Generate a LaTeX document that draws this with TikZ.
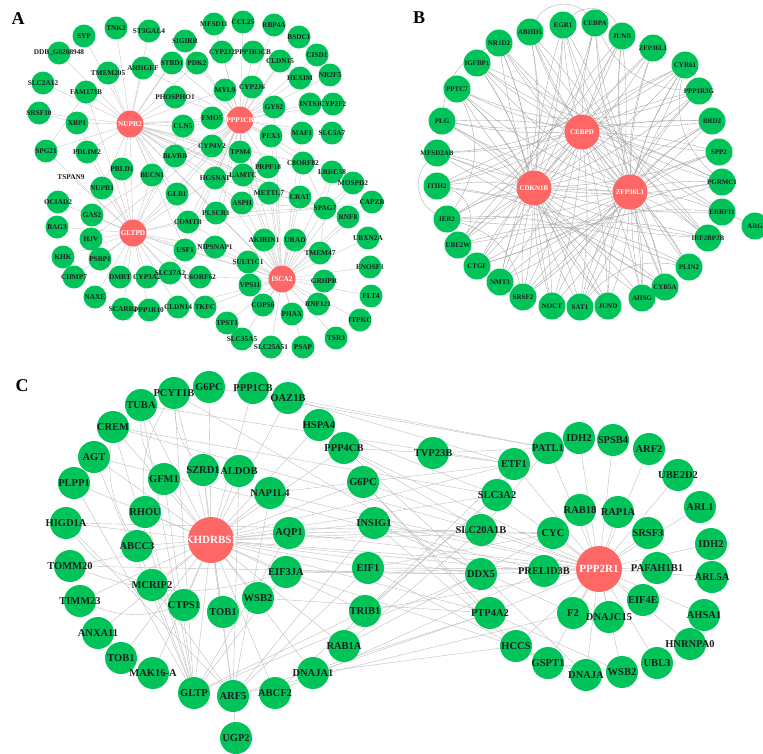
\documentclass[tikz,border=0pt]{standalone}
\usepackage{fontspec}
\setmainfont{Liberation Serif}
\pgfdeclarelayer{bg}
\pgfsetlayers{bg,main}
\definecolor{ngreen}{RGB}{0,196,90}
\definecolor{nred}{RGB}{255,102,102}
\definecolor{txt}{RGB}{30,30,30}
\definecolor{egA}{RGB}{195,195,195}
\definecolor{egB}{RGB}{165,165,165}
\definecolor{egC}{RGB}{190,190,190}
\tikzset{
  lA/.style={font=\fontsize{7.3}{8}\selectfont\bfseries, text=txt, inner sep=0pt},
  lAw/.style={lA, text=white},
  gA/.style={circle, fill=ngreen, inner sep=0pt, minimum size=23pt, label={[lA]center:#1}},
  hA/.style={circle, fill=nred, inner sep=0pt, minimum size=27pt, label={[lAw]center:#1}},
  lB/.style={font=\fontsize{7}{8}\selectfont\bfseries, text=txt, inner sep=0pt},
  lBw/.style={lB, text=white},
  gB/.style={circle, fill=ngreen, inner sep=0pt, minimum size=27pt, label={[lB]center:#1}},
  hB/.style={circle, fill=nred, inner sep=0pt, minimum size=35pt, label={[lBw]center:#1}},
  lC/.style={font=\fontsize{10.5}{12}\selectfont\bfseries, text=txt, inner sep=0pt},
  lCw/.style={lC, font=\fontsize{11}{12}\selectfont\bfseries, text=white},
  gC/.style={circle, fill=ngreen, inner sep=0pt, minimum size=32pt, label={[lC]center:#1}},
  hC/.style={circle, fill=nred, inner sep=0pt, minimum size=46pt, label={[lCw]center:#1}},
  panel/.style={font=\fontsize{18}{20}\selectfont\bfseries, text=black, inner sep=0pt},
  eA/.style={draw=egA, line width=0.35pt},
  eB/.style={draw=egB, line width=0.35pt},
  eC/.style={draw=egC, line width=0.4pt}
}
\begin{document}
\begin{tikzpicture}[x=1pt,y=-1pt]
\useasboundingbox (0,0) rectangle (763,753);
% ---------------- Panel A ----------------
\node[panel] (labA) at (18,19) {A};
\node[gA=SYP] (aSYP) at (84,36) {};
\node[gA=TNK2] (aTNK2) at (116,28) {};
\node[gA=ST3GAL4] (aST3) at (149,31) {};
\node[gA=SIGIRR] (aSIG) at (185,41) {};
\node[gA=DDB\_G0268948] (aDDB) at (59,53) {};
\node[gA=TMEM205] (aTMEM205) at (108,73) {};
\node[gA=ARHGEF] (aARH) at (143,68) {};
\node[gA=STBD1] (aSTBD1) at (172,63) {};
\node[gA=PDK2] (aPDK2) at (197,63) {};
\node[gA=SLC2A12] (aSLC2A12) at (43,83) {};
\node[gA=FAM173B] (aFAM) at (86,92) {};
\node[gA=PHOSPHO1] (aPHOS) at (175,97) {};
\node[gA=SRSF10] (aSRSF10) at (39,113) {};
\node[gA=XBP1] (aXBP1) at (77,123) {};
\node[hA=NUPR2] (aNUPR2) at (130,124) {};
\node[gA=CLN5] (aCLN5) at (183,126) {};
\node[gA=SPG21] (aSPG21) at (46,151) {};
\node[gA=PDLIM2] (aPDLIM2) at (87,152) {};
\node[gA=BLVRB] (aBLVRB) at (175,156) {};
\node[gA=PBLD1] (aPBLD1) at (122,169) {};
\node[gA=MFSD11] (aMFSD11) at (214,24) {};
\node[gA=CCL25] (aCCL25) at (243,22) {};
\node[gA=RBP4A] (aRBP4A) at (274,25) {};
\node[gA=BSDC1] (aBSDC1) at (299,37) {};
\node[gA=CISD1] (aCISD1) at (317,55) {};
\node[gA=NR2F5] (aNR2F5) at (330,75) {};
\node[gA=CYP2J2] (aCYP2J2) at (222,52) {};
\node[gA=PPP1R3CB] (aPPP1R3CB) at (253,52) {};
\node[gA=CLDN15] (aCLDN15) at (280,61) {};
\node[gA=HEXIM] (aHEXIM) at (300,78) {};
\node[gA=MYL9] (aMYL9) at (225,90) {};
\node[gA=CYP2J6] (aCYP2J6) at (252,87) {};
\node[gA=INTS1] (aINTS1) at (310,104) {};
\node[gA=CYP2F2] (aCYP2F2) at (333,104) {};
\node[gA=GYS2] (aGYS2) at (274,107) {};
\node[hA=PPP1CB] (aPPP1CB) at (240,120) {};
\node[gA=FMO5] (aFMO5) at (212,118) {};
\node[gA=PEX3] (aPEX3) at (271,136) {};
\node[gA=MAF1] (aMAF1) at (302,133) {};
\node[gA=SLC5A7] (aSLC5A7) at (332,133) {};
\node[gA=CYP4V2] (aCYP4V2) at (212,146) {};
\node[gA=TPM4] (aTPM4) at (240,152) {};
\node[gA=PRPF18] (aPRPF18) at (268,167) {};
\node[gA=C8ORF82] (aC8) at (303,163) {};
\node[gA=LRRC58] (aLRRC58) at (332,172) {};
\node[lA] (aTSPAN9) at (71,177) {TSPAN9};
\node[gA=BECN1] (aBECN1) at (152,175) {};
\node[gA=NUPR1] (aNUPR1) at (102,188) {};
\node[gA=GLB1] (aGLB1) at (177,194) {};
\node[gA=OCIAD2] (aOCIAD2) at (58,202) {};
\node[gA=GAS2] (aGAS2) at (92,215) {};
\node[gA=COMTB] (aCOMTB) at (188,222) {};
\node[gA=BAG3] (aBAG3) at (57,227) {};
\node[hA=GLTPD] (aGLTPD) at (133,233) {};
\node[gA=HJV] (aHJV) at (91,239) {};
\node[gA=USF1] (aUSF1) at (185,250) {};
\node[gA=KHK] (aKHK) at (63,257) {};
\node[gA=PSBP1] (aPSBP1) at (100,259) {};
\node[gA=CHMP7] (aCHMP7) at (74,277) {};
\node[gA=DMBT] (aDMBT) at (120,277) {};
\node[gA=CYP3A2] (aCYP3A2) at (147,277) {};
\node[gA=SLC37A2] (aSLC37A2) at (170,273) {};
\node[gA=C6ORF62] (aC6) at (200,277) {};
\node[gA=NAXE] (aNAXE) at (95,297) {};
\node[gA=SCARB2] (aSCARB2) at (123,309) {};
\node[gA=PPP1R10] (aPPP1R10) at (149,310) {};
\node[gA=CLDN14] (aCLDN14) at (178,307) {};
\node[gA=TKFC] (aTKFC) at (205,307) {};
\node[gA=HGSNAT] (aHGSNAT) at (215,178) {};
\node[gA=LAMTC] (aLAMTC) at (243,175) {};
\node[gA=METTL7] (aMETTL7) at (269,193) {};
\node[gA=CRAT] (aCRAT) at (300,197) {};
\node[gA=MOSPD2] (aMOSPD2) at (353,183) {};
\node[gA=CAPZB] (aCAPZB) at (372,202) {};
\node[gA=ASPH] (aASPH) at (242,203) {};
\node[gA=PLSCR1] (aPLSCR1) at (216,213) {};
\node[gA=SPAG7] (aSPAG7) at (325,208) {};
\node[gA=RNF8] (aRNF8) at (348,217) {};
\node[gA=UBXN2A] (aUBXN2A) at (368,238) {};
\node[gA=NIPSNAP1] (aNIPSNAP1) at (215,247) {};
\node[gA=AKIRIN1] (aAKIRIN1) at (264,240) {};
\node[gA=URAD] (aURAD) at (295,240) {};
\node[gA=TMEM47] (aTMEM47) at (320,253) {};
\node[gA=SULT1C1] (aSULT1C1) at (248,262) {};
\node[gA=ENOSF1] (aENOSF1) at (370,267) {};
\node[hA=ISCA2] (aISCA2) at (282,279) {};
\node[gA=VPS11] (aVPS11) at (250,285) {};
\node[gA=GRHPR] (aGRHPR) at (324,281) {};
\node[gA=FLT4] (aFLT4) at (371,296) {};
\node[gA=COPS6] (aCOPS6) at (263,305) {};
\node[gA=RNF121] (aRNF121) at (318,304) {};
\node[gA=PHAX] (aPHAX) at (292,314) {};
\node[gA=ITPKC] (aITPKC) at (360,320) {};
\node[gA=TPST1] (aTPST1) at (227,323) {};
\node[gA=SLC35A5] (aSLC35A5) at (242,339) {};
\node[gA=SLC25A51] (aSLC25A51) at (271,347) {};
\node[gA=PSAP] (aPSAP) at (303,347) {};
\node[gA=TSR3] (aTSR3) at (336,338) {};
% ---------------- Panel B ----------------
\node[panel] (labB) at (419,18) {B};
\node[gB=EGR1] (bEGR1) at (563,25) {};
\node[gB=CEBPA] (bCEBPA) at (595,23) {};
\node[gB=JUNB] (bJUNB) at (622,36) {};
\node[gB=ZFP36L1] (bZFPr) at (653,48) {};
\node[gB=CYR61] (bCYR61) at (685,65) {};
\node[gB=PPP1R3G] (bPPP1R3G) at (699,91) {};
\node[gB=BRD2] (bBRD2) at (712,121) {};
\node[gB=SPP2] (bSPP2) at (719,152) {};
\node[gB=PGRMC1] (bPGRMC1) at (722,182) {};
\node[gB=ERRFI1] (bERRFI1) at (722,212) {};
\node[gB=ARG] (bARG) at (755,226) {};
\node[gB=IRF2BP2B] (bIRF) at (708,238) {};
\node[gB=PLIN2] (bPLIN2) at (689,267) {};
\node[gB=CYB5A] (bCYB5A) at (665,287) {};
\node[gB=AHSG] (bAHSG) at (642,298) {};
\node[gB=JUND] (bJUND) at (608,306) {};
\node[gB=SAT1] (bSAT1) at (580,307) {};
\node[gB=NOCT] (bNOCT) at (552,306) {};
\node[gB=SRSF2] (bSRSF2) at (523,297) {};
\node[gB=NMT3] (bNMT3) at (500,282) {};
\node[gB=CTGF] (bCTGF) at (477,266) {};
\node[gB=UBE2W] (bUBE2W) at (458,245) {};
\node[gB=IER2] (bIER2) at (447,219) {};
\node[gB=ITIH2] (bITIH2) at (437,186) {};
\node[gB=MFSD2AB] (bMFSD2AB) at (437,153) {};
\node[gB=PLG] (bPLG) at (442,121) {};
\node[gB=PPTC7] (bPPTC7) at (457,89) {};
\node[gB=IGFBP1] (bIGFBP1) at (477,63) {};
\node[gB=NR1D2] (bNR1D2) at (499,43) {};
\node[gB=ABHD5] (bABHD5) at (530,32) {};
\node[hB=CEBPD] (bCEBPD) at (582,132) {};
\node[hB=CDKN1B] (bCDKN1B) at (534,188) {};
\node[hB=ZFP36L1] (bZFPh) at (630,192) {};
% ---------------- Panel C ----------------
\node[panel] (labC) at (22,386) {C};
\node[gC=G6PC] (cG6PCo) at (209,387) {};
\node[gC=PPP1CB] (cPPP1CB) at (253,388) {};
\node[gC=PCYT1B] (cPCYT1B) at (174,393) {};
\node[gC=TUBA] (cTUBA) at (141,405) {};
\node[gC=CREM] (cCREM) at (113,427) {};
\node[gC=AGT] (cAGT) at (94,457) {};
\node[gC=PLPP1] (cPLPP1) at (74,483) {};
\node[gC=SZRD1] (cSZRD1) at (203,470) {};
\node[gC=ALDOB] (cALDOB) at (239,471) {};
\node[gC=GFM1] (cGFM1) at (164,479) {};
\node[gC=HIGD1A] (cHIGD1A) at (66,523) {};
\node[gC=RHOU] (cRHOU) at (145,512) {};
\node[hC=KHDRBS1] (cKHDRBS1) at (211,540) {};
\node[gC=ABCC3] (cABCC3) at (137,546) {};
\node[gC=NAP1L4] (cNAP1L4) at (270,493) {};
\node[gC=TOMM20] (cTOMM20) at (70,566) {};
\node[gC=MCRIP2] (cMCRIP2) at (152,585) {};
\node[gC=TIMM23] (cTIMM23) at (80,601) {};
\node[gC=CTPS1] (cCTPS1) at (184,605) {};
\node[gC=TOB1] (cTOB1i) at (223,612) {};
\node[gC=WSB2] (cWSB2) at (258,598) {};
\node[gC=ANXA11] (cANXA11) at (98,633) {};
\node[gC=TOB1] (cTOB1o) at (121,658) {};
\node[gC=MAK16-A] (cMAK16) at (153,673) {};
\node[gC=GLTP] (cGLTP) at (194,693) {};
\node[gC=ARF5] (cARF5) at (233,696) {};
\node[gC=UGP2] (cUGP2) at (236,738) {};
\node[gC=OAZ1B] (cOAZ1B) at (288,398) {};
\node[gC=HSPA4] (cHSPA4) at (319,425) {};
\node[gC=PPP4CB] (cPPP4CB) at (344,448) {};
\node[gC=TVP23B] (cTVP23B) at (433,453) {};
\node[gC=G6PC] (cG6PCi) at (363,482) {};
\node[gC=AQP1] (cAQP1) at (289,533) {};
\node[gC=INSIG1] (cINSIG1) at (374,523) {};
\node[gC=SLC20A1B] (cSLC20A1B) at (481,530) {};
\node[gC=EIF3JA] (cEIF3JA) at (286,572) {};
\node[gC=EIF1] (cEIF1) at (368,568) {};
\node[gC=DDX5] (cDDX5) at (481,574) {};
\node[gC=TRIB1] (cTRIB1) at (365,611) {};
\node[gC=PTP4A2] (cPTP4A2) at (490,613) {};
\node[gC=RAB1A] (cRAB1A) at (344,646) {};
\node[gC=DNAJA1] (cDNAJA1) at (313,673) {};
\node[gC=ABCF2] (cABCF2) at (275,693) {};
\node[gC=ETF1] (cETF1) at (514,464) {};
\node[gC=SLC3A2] (cSLC3A2) at (497,495) {};
\node[gC=HCCS] (cHCCS) at (516,646) {};
\node[gC=PATL1] (cPATL1) at (548,448) {};
\node[gC=IDH2] (cIDH2t) at (579,438) {};
\node[gC=SPSB4] (cSPSB4) at (613,440) {};
\node[gC=ARF2] (cARF2) at (649,449) {};
\node[gC=UBE2D2] (cUBE2D2) at (678,475) {};
\node[gC=ARL1] (cARL1) at (700,507) {};
\node[gC=RAB18] (cRAB18) at (580,510) {};
\node[gC=RAP1A] (cRAP1A) at (618,512) {};
\node[gC=CYC] (cCYC) at (553,533) {};
\node[gC=SRSF3] (cSRSF3) at (648,533) {};
\node[gC=IDH2] (cIDH2r) at (711,544) {};
\node[hC=PPP2R1] (cPPP2R1) at (599,569) {};
\node[gC=PRELID3B] (cPRELID3B) at (544,571) {};
\node[gC=PAFAH1B1] (cPAFAH1B1) at (657,568) {};
\node[gC=ARL5A] (cARL5A) at (712,577) {};
\node[gC=EIF4E] (cEIF4E) at (643,600) {};
\node[gC=F2] (cF2) at (573,613) {};
\node[gC=DNAJC15] (cDNAJC15) at (609,617) {};
\node[gC=AHSA1] (cAHSA1) at (704,615) {};
\node[gC=HNRNPA0] (cHNRNPA0) at (690,644) {};
\node[gC=GSPT1] (cGSPT1) at (548,663) {};
\node[gC=DNAJA] (cDNAJA) at (586,675) {};
\node[gC=WSB2] (cWSB2r) at (622,672) {};
\node[gC=UBL3] (cUBL3) at (657,663) {};
% ================= Edges =================
\begin{pgfonlayer}{bg}
% Panel A
\foreach \n in {aSYP,aTNK2,aST3,aSIG,aDDB,aTMEM205,aARH,aSLC2A12,aFAM,aSRSF10,aXBP1,aSPG21,aPDLIM2,aPHOS,aCLN5,aBLVRB,aSTBD1,aPDK2,aPBLD1,aBECN1,aNUPR1,aGLB1,aCOMTB,aHGSNAT,aPLSCR1,aUSF1,aLAMTC,aASPH,aMETTL7,aCRAT,aSPAG7,aC8,aPRPF18,aMYL9,aFMO5,aCYP4V2,aTPM4}
  \draw[eA] (aNUPR2) -- (\n);
\foreach \n in {aMFSD11,aCCL25,aRBP4A,aBSDC1,aCISD1,aNR2F5,aCYP2J2,aPPP1R3CB,aCLDN15,aHEXIM,aMYL9,aCYP2J6,aINTS1,aCYP2F2,aGYS2,aFMO5,aPEX3,aMAF1,aSLC5A7,aCYP4V2,aTPM4,aPRPF18,aC8,aLRRC58,aSTBD1,aPDK2,aPHOS,aCLN5,aBLVRB,aGLB1,aHGSNAT,aLAMTC,aCOMTB,aPLSCR1,aNIPSNAP1,aUSF1,aGAS2,aHJV,aSLC37A2,aSIG,aARH}
  \draw[eA] (aPPP1CB) -- (\n);
\foreach \n in {aTSPAN9,aPBLD1,aBECN1,aNUPR1,aGLB1,aOCIAD2,aGAS2,aCOMTB,aBAG3,aHJV,aUSF1,aKHK,aPSBP1,aCHMP7,aDMBT,aCYP3A2,aSLC37A2,aNAXE,aSCARB2,aPPP1R10,aCLDN14,aC6,aBLVRB,aCLN5,aPDLIM2,aXBP1,aSPG21,aHGSNAT,aPLSCR1,aNIPSNAP1,aSULT1C1,aTKFC,aFAM}
  \draw[eA] (aGLTPD) -- (\n);
\foreach \n in {aHGSNAT,aLAMTC,aMETTL7,aCRAT,aMOSPD2,aCAPZB,aASPH,aPLSCR1,aSPAG7,aRNF8,aUBXN2A,aNIPSNAP1,aAKIRIN1,aURAD,aTMEM47,aSULT1C1,aENOSF1,aVPS11,aGRHPR,aFLT4,aCOPS6,aRNF121,aPHAX,aITPKC,aTPST1,aTKFC,aSLC35A5,aSLC25A51,aPSAP,aTSR3,aC6,aCLDN14,aLRRC58,aC8,aPRPF18,aCOMTB,aUSF1,aPEX3,aMAF1,aGYS2,aTPM4}
  \draw[eA] (aISCA2) -- (\n);
\foreach \a/\b in {aNUPR2/aPPP1CB,aNUPR2/aGLTPD,aNUPR2/aISCA2,aPPP1CB/aISCA2,aGLTPD/aISCA2,aPPP1CB/aGLTPD,aSRSF10/aXBP1,aSPG21/aFAM,aSPAG7/aCAPZB,aSPAG7/aMOSPD2,aSPAG7/aRNF8,aSPAG7/aLRRC58,aSPAG7/aC8,aSPAG7/aHGSNAT,aSPAG7/aLAMTC,aSPAG7/aASPH,aSPAG7/aPLSCR1,aSPAG7/aCOMTB,aSPAG7/aMETTL7,aSPAG7/aTMEM47}
  \draw[eA] (\a) -- (\b);
% Panel B
\foreach \n in {bEGR1,bCEBPA,bJUNB,bZFPr,bCYR61,bPPP1R3G,bBRD2,bSPP2,bPGRMC1,bERRFI1,bIRF,bPLIN2,bCYB5A,bAHSG,bJUND,bSAT1,bNOCT,bSRSF2,bNMT3,bCTGF,bUBE2W,bIER2,bITIH2,bMFSD2AB,bPLG,bPPTC7,bIGFBP1,bNR1D2,bABHD5}
  {\draw[eB] (bCEBPD) to[bend left=6] (\n);
   \draw[eB] (bCDKN1B) to[bend right=8] (\n);
   \draw[eB] (bZFPh) to[bend left=8] (\n);}
\foreach \a/\b in {bCEBPD/bCDKN1B,bCEBPD/bZFPh,bCDKN1B/bZFPh,bERRFI1/bARG}
  \draw[eB] (\a) -- (\b);
\foreach \a/\b in {bEGR1/bERRFI1,bCEBPA/bIRF,bJUNB/bPLIN2,bZFPr/bCYB5A,bCYR61/bAHSG,bPPP1R3G/bJUND,bBRD2/bSAT1,bSPP2/bNOCT,bPGRMC1/bSRSF2,bERRFI1/bNMT3,bIRF/bCTGF,bPLIN2/bUBE2W,bCYB5A/bIER2,bAHSG/bITIH2,bJUND/bMFSD2AB,bSAT1/bPLG,bNOCT/bPPTC7,bSRSF2/bIGFBP1,bNMT3/bNR1D2,bCTGF/bABHD5,bUBE2W/bEGR1,bIER2/bCEBPA,bITIH2/bJUNB,bMFSD2AB/bZFPr,bPLG/bCYR61,bPPTC7/bPPP1R3G,bIGFBP1/bBRD2,bNR1D2/bSPP2,bABHD5/bPGRMC1}
  \draw[eB] (\a) to[bend right=22] (\b);
\foreach \a/\b in {bEGR1/bAHSG,bJUNB/bSAT1,bCYR61/bSRSF2,bBRD2/bCTGF,bPGRMC1/bIER2,bIRF/bMFSD2AB,bCYB5A/bPPTC7,bJUND/bNR1D2,bNOCT/bEGR1,bNMT3/bJUNB,bUBE2W/bCYR61,bITIH2/bBRD2,bPLG/bPGRMC1,bIGFBP1/bIRF,bABHD5/bCYB5A}
  \draw[eB] (\a) to[bend left=14] (\b);
\foreach \a/\b in {bCEBPA/bPPP1R3G,bIER2/bPPTC7,bPLIN2/bSAT1,bSRSF2/bIER2,bCYR61/bPGRMC1,bNR1D2/bPLG}
  \draw[eB] (\a) to[bend right=30] (\b);
\foreach \a/\b in {bITIH2/bUBE2W,bIER2/bMFSD2AB,bEGR1/bJUNB,bABHD5/bCEBPA}
  \draw[eB] (\a) to[bend left=55] (\b);
% Panel C
\foreach \n in {cPCYT1B,cTUBA,cCREM,cAGT,cPLPP1,cHIGD1A,cTOMM20,cTIMM23,cANXA11,cTOB1o,cMAK16,cGLTP,cARF5,cABCF2,cDNAJA1,cRAB1A,cTRIB1,cEIF1,cINSIG1,cG6PCi,cPPP4CB,cHSPA4,cOAZ1B,cPPP1CB,cG6PCo,cSZRD1,cALDOB,cGFM1,cRHOU,cABCC3,cNAP1L4,cAQP1,cEIF3JA,cWSB2,cTOB1i,cCTPS1,cMCRIP2,cSLC20A1B,cDDX5,cPRELID3B,cCYC,cSLC3A2,cETF1,cPTP4A2,cPPP2R1}
  \draw[eC] (cKHDRBS1) -- (\n);
\foreach \n in {cPATL1,cIDH2t,cSPSB4,cARF2,cUBE2D2,cARL1,cIDH2r,cARL5A,cAHSA1,cHNRNPA0,cUBL3,cWSB2r,cDNAJA,cGSPT1,cHCCS,cF2,cDNAJC15,cEIF4E,cPAFAH1B1,cSRSF3,cRAP1A,cRAB18,cCYC,cPRELID3B,cETF1,cSLC3A2,cSLC20A1B,cDDX5,cPTP4A2,cINSIG1,cEIF1,cTRIB1,cG6PCi,cPPP4CB,cAQP1,cEIF3JA,cNAP1L4}
  \draw[eC] (cPPP2R1) -- (\n);
\foreach \a/\b in {cCREM/cSLC3A2,cCREM/cSLC20A1B,cTUBA/cETF1,cPCYT1B/cDDX5,cG6PCo/cPATL1,cPPP1CB/cETF1,cOAZ1B/cPATL1,cHSPA4/cSLC3A2,cPPP4CB/cTVP23B,cTVP23B/cETF1,cTVP23B/cPATL1,cPPP4CB/cSLC20A1B,cPPP4CB/cDDX5,cG6PCi/cPTP4A2,cG6PCi/cHCCS,cINSIG1/cHCCS,cINSIG1/cF2,cEIF1/cGSPT1,cEIF1/cCYC,cTRIB1/cSLC3A2,cTRIB1/cETF1,cRAB1A/cSLC20A1B,cRAB1A/cCYC,cDNAJA1/cPTP4A2,cDNAJA1/cHCCS,cABCF2/cPRELID3B,cABCF2/cSLC3A2,cGLTP/cDDX5,cARF5/cPTP4A2,cARF5/cF2,cAGT/cPRELID3B,cHIGD1A/cCYC,cTOMM20/cDDX5,cARF5/cUGP2,cWSB2r/cGSPT1,cHCCS/cGSPT1,cHCCS/cDNAJA,cSLC3A2/cETF1,cPTP4A2/cWSB2r,cDDX5/cDNAJA,cSLC20A1B/cPATL1,cAQP1/cSLC20A1B,cEIF3JA/cDDX5,cNAP1L4/cETF1,cWSB2/cPTP4A2,cEIF3JA/cHCCS}
  \draw[eC] (\a) -- (\b);
\foreach \n in {cCREM,cAGT,cTUBA,cPCYT1B,cRHOU,cGFM1,cABCC3,cEIF3JA,cAQP1,cTRIB1,cPLPP1}
  \draw[eC] (cGLTP) -- (\n);
\foreach \n in {cSZRD1,cALDOB,cINSIG1,cEIF1,cNAP1L4,cHIGD1A,cMCRIP2}
  \draw[eC] (cARF5) -- (\n);
\foreach \a/\b in {cTUBA/cGFM1,cPCYT1B/cRHOU,cCREM/cABCC3,cHIGD1A/cMCRIP2,cTIMM23/cCTPS1,cTOMM20/cEIF3JA,cPCYT1B/cSZRD1}
  \draw[eC] (\a) to[bend right=18] (\b);
\end{pgfonlayer}
\end{tikzpicture}
\end{document}
